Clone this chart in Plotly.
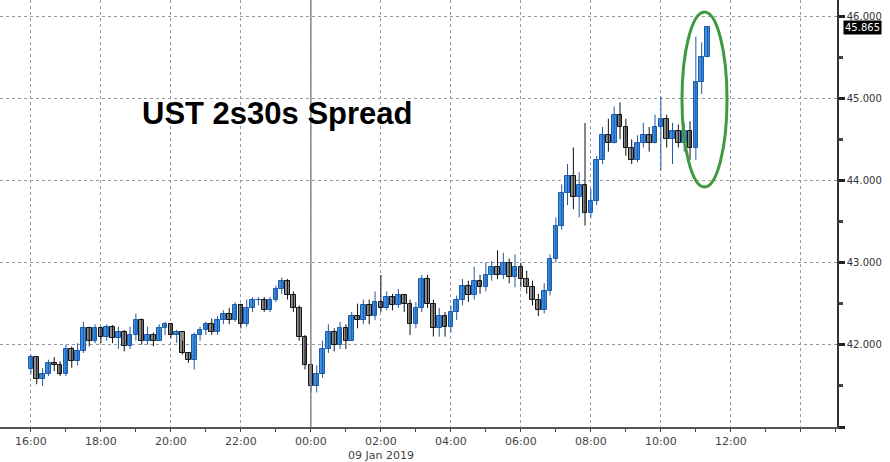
import plotly.graph_objects as go
import pandas as pd

# 10-minute bars, 08 Jan 2019 16:00 -> 09 Jan 2019 11:20
start_time = "2019-01-08 16:00"
first_open = 41.70
closes = [41.85, 41.58, 41.65, 41.78, 41.75, 41.65, 41.95, 41.80, 41.92, 42.20,
          42.05, 42.20, 42.10, 42.22, 42.08, 42.15, 41.98, 42.12, 42.30, 42.05,
          42.12, 42.05, 42.20, 42.25, 42.12, 42.15, 41.90, 41.82, 42.12, 42.18,
          42.25, 42.15, 42.30, 42.38, 42.30, 42.48, 42.25, 42.45, 42.55, 42.55,
          42.42, 42.55, 42.68, 42.78, 42.60, 42.45, 42.10, 41.75, 41.50, 41.65,
          41.95, 42.15, 42.00, 42.20, 42.05, 42.35, 42.30, 42.48, 42.35, 42.52,
          42.45, 42.58, 42.48, 42.60, 42.50, 42.25, 42.45, 42.80, 42.50, 42.20,
          42.35, 42.22, 42.40, 42.55, 42.72, 42.60, 42.78, 42.70, 42.85, 42.95,
          42.85, 43.00, 42.82, 42.95, 42.80, 42.70, 42.55, 42.42, 42.65, 43.05,
          43.45, 43.85, 44.05, 43.80, 43.95, 43.60, 43.75, 44.25, 44.55, 44.45,
          44.80, 44.65, 44.40, 44.25, 44.45, 44.55, 44.45, 44.65, 44.75, 44.50,
          44.60, 44.45, 44.60, 44.40, 45.20, 45.50, 45.865]
highs = [41.88, 41.85, 41.72, 41.82, 41.85, 41.80, 42.00, 41.98, 42.02, 42.28,
         42.22, 42.25, 42.22, 42.25, 42.24, 42.22, 42.18, 42.22, 42.38, 42.32,
         42.22, 42.15, 42.25, 42.28, 42.26, 42.18, 42.05, 41.90, 42.15, 42.22,
         42.28, 42.32, 42.35, 42.42, 42.45, 42.52, 42.50, 42.55, 42.58, 42.58,
         42.58, 42.58, 42.72, 42.82, 42.80, 42.65, 42.48, 42.12, 41.78, 41.75,
         42.05, 42.25, 42.20, 42.28, 42.25, 42.40, 42.50, 42.55, 42.55, 42.65,
         42.85, 42.65, 42.62, 42.68, 42.62, 42.55, 42.52, 42.85, 42.85, 42.55,
         42.45, 42.40, 42.48, 42.60, 42.80, 42.78, 42.95, 42.85, 43.00, 43.02,
         43.15, 43.12, 43.05, 43.10, 43.00, 42.90, 42.78, 42.62, 42.75, 43.10,
         43.55, 43.95, 44.20, 44.40, 44.10, 44.70, 43.90, 44.30, 44.65, 44.75,
         44.90, 44.95, 44.75, 44.50, 44.55, 44.70, 44.65, 44.80, 45.02, 44.80,
         44.70, 44.68, 44.70, 44.72, 45.75, 45.68, 45.87]
lows = [41.65, 41.52, 41.50, 41.62, 41.68, 41.62, 41.62, 41.72, 41.75, 41.90,
        41.98, 42.02, 42.02, 42.05, 42.02, 41.95, 41.92, 41.95, 42.05, 42.00,
        42.00, 41.98, 42.05, 42.12, 42.08, 42.02, 41.88, 41.78, 41.70, 42.05,
        42.12, 42.12, 42.12, 42.25, 42.25, 42.28, 42.20, 42.22, 42.40, 42.48,
        42.40, 42.40, 42.52, 42.62, 42.55, 42.40, 42.05, 41.70, 41.42, 41.42,
        41.60, 41.90, 41.92, 41.95, 41.95, 42.05, 42.20, 42.25, 42.25, 42.30,
        42.40, 42.42, 42.42, 42.45, 42.40, 42.12, 42.20, 42.40, 42.45, 42.10,
        42.10, 42.10, 42.15, 42.30, 42.48, 42.52, 42.55, 42.62, 42.65, 42.78,
        42.80, 42.80, 42.75, 42.70, 42.70, 42.62, 42.48, 42.35, 42.38, 42.60,
        43.00, 43.40, 43.70, 43.65, 43.55, 43.45, 43.55, 43.70, 44.20, 44.35,
        44.45, 44.50, 44.30, 44.20, 44.22, 44.40, 44.35, 44.45, 44.12, 44.40,
        44.20, 44.40, 44.35, 44.25, 44.25, 45.05, 45.50]

x_tick_vals = ["2019-01-08 16:00", "2019-01-08 18:00", "2019-01-08 20:00", "2019-01-08 22:00",
               "2019-01-09 00:00", "2019-01-09 02:00", "2019-01-09 04:00", "2019-01-09 06:00",
               "2019-01-09 08:00", "2019-01-09 10:00", "2019-01-09 12:00", "2019-01-09 14:00"]
x_tick_text = ["16:00", "18:00", "20:00", "22:00", "00:00", "02:00", "04:00", "06:00",
               "08:00", "10:00", "12:00", ""]
y_tick_vals = [41, 42, 43, 44, 45, 46]
y_tick_text = ["", "42.000", "43.000", "44.000", "45.000", "46.000"]
last_price = closes[-1]

times = list(pd.date_range(start_time, periods=len(closes), freq="10min"))
opens = [first_open] + closes[:-1]
bar_ms = 10 * 60 * 1000

fig = go.Figure()
for up, fill, edge in [(True, "#3b8fe3", "#1d5aa8"), (False, "#8c8c8c", "#111111")]:
    idx = [i for i in range(len(closes)) if (closes[i] >= opens[i]) == up]
    # wicks
    wx, wy = [], []
    for i in idx:
        wx += [times[i], times[i], None]
        wy += [lows[i], highs[i], None]
    fig.add_trace(go.Scatter(x=wx, y=wy, mode="lines", line=dict(color=edge, width=1),
                             hoverinfo="skip", showlegend=False))
    # bodies
    fig.add_trace(go.Bar(
        x=[times[i] for i in idx],
        y=[closes[i] - opens[i] for i in idx],
        base=[opens[i] for i in idx],
        width=bar_ms * 0.8,
        marker=dict(color=fill, line=dict(color=edge, width=1)),
        hoverinfo="skip", showlegend=False))

fig.update_layout(
    width=890, height=462,
    margin=dict(l=0, r=53, t=0, b=35),
    paper_bgcolor="white", plot_bgcolor="white",
    showlegend=False, bargap=0,
    font=dict(family="DejaVu Sans", size=11, color="#444444"),
    xaxis=dict(
        type="date", range=["2019-01-08 15:07", "2019-01-09 15:02"],
        automargin=False,
        tickvals=x_tick_vals, ticktext=x_tick_text,
        showgrid=True, gridcolor="#9a9a9a", griddash="dot", gridwidth=1,
        ticks="outside", ticklen=3, tickcolor="#444", tickwidth=1,
        minor=dict(dtick=3600000 * 2, tick0="2019-01-08 17:00", ticks="outside",
                   ticklen=3, tickcolor="#444", showgrid=False),
        showline=True, linecolor="#555", linewidth=1.5,
        zeroline=False, fixedrange=True),
    yaxis=dict(
        side="right", range=[41, 46.195], automargin=False,
        tickvals=y_tick_vals, ticktext=y_tick_text,
        tickfont=dict(size=10, color="#333"),
        showgrid=True, gridcolor="#9a9a9a", griddash="dot", gridwidth=1,
        ticks="outside", ticklen=6, tickwidth=2.5, tickcolor="#222",
        minor=dict(dtick=0.5, tick0=41.5, ticks="outside", ticklen=4,
                   tickcolor="#444", showgrid=False),
        showline=True, linecolor="#333", linewidth=1.5,
        zeroline=False, fixedrange=True),
)

# midnight divider
fig.add_shape(type="line", xref="x", yref="paper",
              x0="2019-01-09 00:00", x1="2019-01-09 00:00", y0=0, y1=1,
              line=dict(color="#8a8a8a", width=1.5))

# green ellipse highlight
fig.add_shape(type="circle", xref="paper", yref="paper",
              x0=0.8148, x1=0.8686, y0=0.562, y1=0.972,
              line=dict(color="#3d9b3d", width=3))

fig.add_annotation(text="<b>UST 2s30s Spread</b>", xref="paper", yref="paper",
                   x=0.167, y=0.735, xanchor="left", yanchor="middle", showarrow=False,
                   font=dict(family="Liberation Sans, Arial", size=31, color="black"))

fig.add_annotation(text="09 Jan 2019", xref="x", yref="paper",
                   x="2019-01-09 02:00", y=-0.066, xanchor="center", yanchor="middle",
                   showarrow=False, font=dict(family="DejaVu Sans", size=11, color="#444"))

fig.add_annotation(text=f"{last_price:.3f}", xref="paper", yref="y",
                   x=1, y=last_price, xanchor="left", yanchor="middle", xshift=6,
                   showarrow=False, bgcolor="black", borderpad=1,
                   font=dict(family="DejaVu Sans", size=10, color="white"))

fig.write_html("out.html", config={"displayModeBar": False},
               post_script="document.body.style.margin='0';document.body.style.overflow='hidden';")
